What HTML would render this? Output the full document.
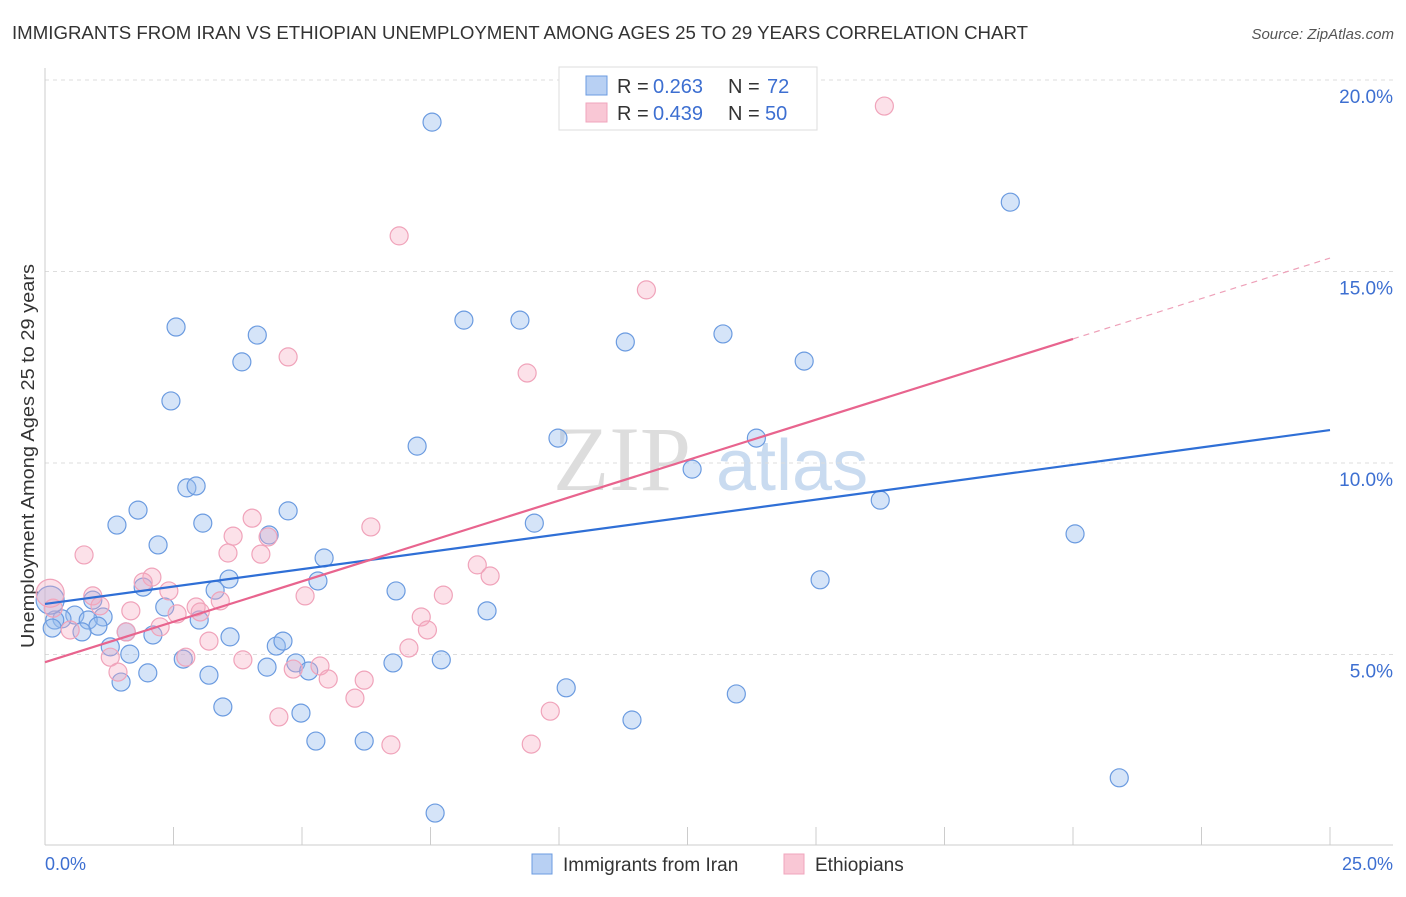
<!DOCTYPE html>
<html><head><meta charset="utf-8"><style>
body{margin:0;background:#fff;font-family:"Liberation Sans",sans-serif}
</style></head><body>
<svg id="c" width="1406" height="892" xmlns="http://www.w3.org/2000/svg">
<text x="12" y="39" font-size="18.5" fill="#333" textLength="1016" lengthAdjust="spacingAndGlyphs">IMMIGRANTS FROM IRAN VS ETHIOPIAN UNEMPLOYMENT AMONG AGES 25 TO 29 YEARS CORRELATION CHART</text>
<text x="1394" y="39" font-size="15" fill="#555" font-style="italic" text-anchor="end">Source: ZipAtlas.com</text>
<g>
<text x="553" y="490" font-size="92" fill="#ddd" font-family="Liberation Serif,serif">ZIP</text>
<text x="716" y="490" font-size="72" fill="#c9dbf0">atlas</text>
</g>
<g id="grid"></g>
<line x1="45" y1="68" x2="45" y2="845" stroke="#ccc"/>
<line x1="45" y1="845" x2="1393" y2="845" stroke="#ccc"/>
<g id="ticks"></g>
<text x="45" y="870" font-size="18" fill="#3d6fd1">0.0%</text>
<text x="1393" y="870" font-size="18" fill="#3d6fd1" text-anchor="end">25.0%</text>
<text transform="translate(34,456) rotate(-90)" font-size="18" fill="#333" text-anchor="middle" textLength="384" lengthAdjust="spacingAndGlyphs">Unemployment Among Ages 25 to 29 years</text>
<g id="pts"></g>
<g id="lines"></g>
<g>
<rect x="559" y="67" width="258" height="63" fill="#fff" stroke="#ddd"/>
<rect x="586" y="76" width="21" height="19" fill="#b8d0f3" stroke="#6b9be0"/>
<rect x="586" y="103" width="21" height="19" fill="#f9c7d5" stroke="#f0a6bd"/>
<text x="617" y="93" font-size="20" fill="#333">R =</text>
<text x="653" y="93" font-size="20" fill="#3d6fd1">0.263</text>
<text x="728" y="93" font-size="20" fill="#333">N =</text>
<text x="767" y="93" font-size="20" fill="#3d6fd1">72</text>
<text x="617" y="120" font-size="20" fill="#333">R =</text>
<text x="653" y="120" font-size="20" fill="#3d6fd1">0.439</text>
<text x="728" y="120" font-size="20" fill="#333">N =</text>
<text x="765" y="120" font-size="20" fill="#3d6fd1">50</text>
</g>
<g>
<rect x="532" y="854" width="20" height="20" fill="#b8d0f3" stroke="#6b9be0"/>
<text x="563" y="871" font-size="19" fill="#333">Immigrants from Iran</text>
<rect x="784" y="854" width="20" height="20" fill="#f9c7d5" stroke="#f0a6bd"/>
<text x="815" y="871" font-size="19" fill="#333">Ethiopians</text>
</g>
</svg>
<script>
const yTicks=[5,10,15,20];
const xTicks=[0,2.5,5,7.5,10,12.5,15,17.5,20,22.5,25];
const iranX=[7.53,18.78,2.55,4.13,8.15,9.24,11.29,13.19,14.77,3.83,2.45,7.24,9.98,13.84,12.59,16.25,20.04,2.76,2.94,1.81,1.40,3.07,4.73,2.20,4.36,5.43,9.52,3.58,5.31,1.91,3.31,6.83,0.93,2.33,8.60,15.08,0.58,1.13,0.84,0.33,0.19,3.00,1.03,0.72,1.58,2.10,3.60,0.14,1.27,1.65,4.50,4.63,2.69,4.88,4.32,5.13,6.77,7.71,2.00,3.19,1.48,10.14,13.45,3.46,4.98,11.42,5.27,6.21,20.90,7.59,0.1];
const iranY=[18.90,16.81,13.55,13.34,13.73,13.73,13.16,13.37,12.66,12.64,11.62,10.44,10.65,10.65,9.84,9.03,8.15,9.35,9.40,8.77,8.38,8.43,8.75,7.86,8.12,7.52,8.43,6.97,6.92,6.76,6.68,6.66,6.42,6.24,6.14,6.95,6.03,5.98,5.90,5.93,5.90,5.90,5.74,5.59,5.59,5.51,5.46,5.69,5.20,5.01,5.22,5.35,4.88,4.78,4.67,4.57,4.78,4.86,4.52,4.46,4.28,4.13,3.97,3.63,3.47,3.29,2.74,2.74,1.78,0.86,6.42];
const ethX=[16.33,6.89,11.70,4.73,9.38,4.03,6.34,3.66,4.34,0.76,3.56,4.20,8.41,8.66,2.08,1.91,2.41,0.93,5.06,7.75,3.41,1.07,1.67,2.94,3.02,2.57,7.32,0.16,7.44,2.24,0.49,1.58,3.19,7.08,1.27,2.74,3.85,5.35,4.83,1.42,5.51,6.21,6.03,4.55,9.83,6.73,9.46,0.1];
const ethY=[19.32,15.93,14.52,12.77,12.35,8.56,8.33,8.09,8.07,7.60,7.65,7.62,7.34,7.05,7.02,6.89,6.66,6.53,6.53,6.55,6.40,6.27,6.14,6.24,6.11,6.06,5.98,6.21,5.64,5.72,5.64,5.59,5.35,5.17,4.93,4.93,4.86,4.70,4.62,4.54,4.36,4.33,3.86,3.37,3.52,2.64,2.66,6.6];
const iranTrend=[6.32,10.86];
const ethTrend=[4.80,15.35];
const NS='http://www.w3.org/2000/svg';
const sx=v=>45+v/25*1285, sy=v=>846-v*38.3;
function mk(t,a,p){const e=document.createElementNS(NS,t);for(const k in a)e.setAttribute(k,a[k]);p.appendChild(e);return e;}
const grid=document.getElementById('grid');
yTicks.forEach(v=>{
 const l=mk('line',{x1:45,x2:1393,y1:sy(v),y2:sy(v),stroke:'#ddd','stroke-dasharray':'4,4'},grid);
 
 
 const t=mk('text',{x:1393,y:sy(v)+23,'font-size':19,fill:'#3d6fd1','text-anchor':'end'},grid);
 t.textContent=v.toFixed(1)+'%';
 
 
});
const tk=document.getElementById('ticks');
xTicks.forEach(v=>{
 const l=mk('line',{x1:sx(v),x2:sx(v),y1:827,y2:845,stroke:'#ccc'},tk);
 
 
});
const pts=document.getElementById('pts');
iranX.forEach((x,i)=>{
 const big=i===iranX.length-1;
 const c=mk('circle',{cx:sx(x),cy:sy(iranY[i]),r:big?14:9,fill:'rgba(150,188,238,0.4)',stroke:'#6b9be0','stroke-width':1.2},pts);
 
 
});
ethX.forEach((x,i)=>{
 const big=i===ethX.length-1;
 const c=mk('circle',{cx:sx(x),cy:sy(ethY[i]),r:big?14:9,fill:'rgba(245,170,192,0.35)',stroke:'#f0a3ba','stroke-width':1.2},pts);
 
 
});
const ln=document.getElementById('lines');
const b=mk('line',{x1:sx(0),y1:sy(iranTrend[0]),x2:sx(25),y2:sy(iranTrend[1]),stroke:'#2f6fd6','stroke-width':2.2},ln);


const pAt=v=>ethTrend[0]+(ethTrend[1]-ethTrend[0])*v/25;
const p=mk('line',{x1:sx(0),y1:sy(pAt(0)),x2:sx(20),y2:sy(pAt(20)),stroke:'#e8648e','stroke-width':2.2},ln);


const pd=mk('line',{x1:sx(20),y1:sy(pAt(20)),x2:sx(25),y2:sy(pAt(25)),stroke:'#eea0b8','stroke-width':1.2,'stroke-dasharray':'6,5'},ln);


</script>
</body></html>
